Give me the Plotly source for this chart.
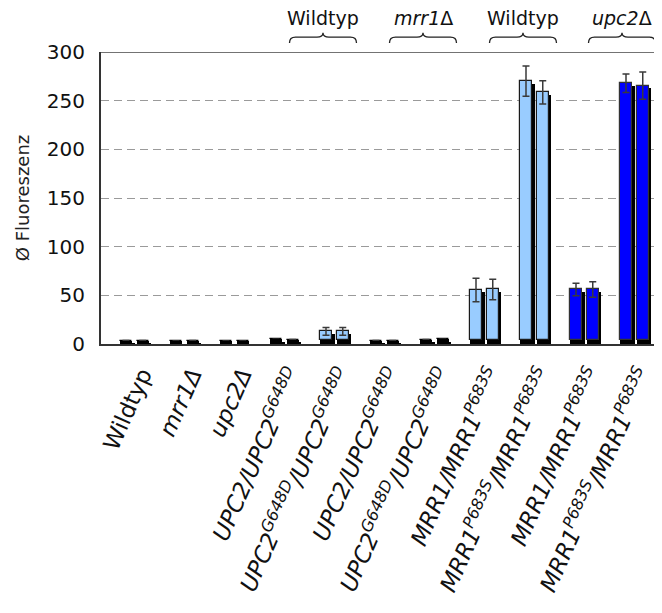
import plotly.graph_objects as go

# ---------------- data ----------------
categories = [
    "Wildtyp",
    "<i>mrr1Δ</i>",
    "<i>upc2Δ</i>",
    "<i>UPC2/UPC2<sup>G648D</sup></i>",
    "<i>UPC2<sup>G648D</sup>/UPC2<sup>G648D</sup></i>",
    "<i>UPC2/UPC2<sup>G648D</sup></i>",
    "<i>UPC2<sup>G648D</sup>/UPC2<sup>G648D</sup></i>",
    "<i>MRR1/MRR1<sup>P683S</sup></i>",
    "<i>MRR1<sup>P683S</sup>/MRR1<sup>P683S</sup></i>",
    "<i>MRR1/MRR1<sup>P683S</sup></i>",
    "<i>MRR1<sup>P683S</sup>/MRR1<sup>P683S</sup></i>",
]
# mean fluorescence, two isolates per strain
mean_a = [3.5, 3.0, 3.0, 5.0, 13.0, 3.5, 4.5, 55.5, 270.0, 56.0, 268.0]
mean_b = [3.5, 3.5, 3.0, 4.5, 13.0, 3.5, 5.0, 56.0, 258.5, 56.0, 265.5]
err_a = [None, None, None, None, 4.0, None, None, 12.0, 15.5, 6.5, 9.5]
err_b = [None, None, None, None, 4.0, None, None, 10.5, 12.0, 8.0, 14.0]
# black (background) portion at the foot of each bar
black_a = [3.5, 3.0, 3.0, 5.0, 4.0, 3.5, 4.5, 4.0, 4.0, 4.0, 4.0]
black_b = [3.5, 3.5, 3.0, 4.5, 4.0, 3.5, 5.0, 4.0, 4.0, 4.0, 4.0]
bar_colors = ["#000000", "#000000", "#000000", "#000000", "#99CCFF", "#000000",
              "#000000", "#99CCFF", "#99CCFF", "#0000FF", "#0000FF"]
line_colors = ["#000000", "#000000", "#000000", "#000000", "#1a1a1a", "#000000",
               "#000000", "#1a1a1a", "#1a1a1a", "#333333", "#333333"]

groups = ["Wildtyp", "<i>mrr1</i>Δ", "Wildtyp", "<i>upc2</i>Δ"]
group_pos = [3.76, 5.76, 7.76, 9.74]

# ---------------- figure ----------------
x = list(range(len(categories)))
FONT = "DejaVu Sans"
BW = 0.24
offsets = [-0.30, 0.035]
SH_DX = 0.05   # shadow shift (x units)
SH_DY = -2.5   # shadow shift (y units)

fig = go.Figure()

for mean, err, black, off in [(mean_a, err_a, black_a, offsets[0]),
                              (mean_b, err_b, black_b, offsets[1])]:
    # drop shadow
    fig.add_trace(go.Bar(
        x=x, y=mean, base=[SH_DY] * len(x), width=BW, offset=off + SH_DX,
        marker=dict(color="#000000", line=dict(width=0)),
        showlegend=False, hoverinfo="skip"))
    # coloured part
    fig.add_trace(go.Bar(
        x=x, y=[m - b for m, b in zip(mean, black)], base=black, width=BW, offset=off,
        marker=dict(color=bar_colors, line=dict(color=line_colors, width=1.2)),
        error_y=dict(type="data", array=[e if e is not None else 0 for e in err],
                     visible=True, color="#3a3a3a", thickness=1.5, width=3.5),
        showlegend=False))
    # black foot
    fig.add_trace(go.Bar(
        x=x, y=black, width=BW, offset=off,
        marker=dict(color="#000000", line=dict(width=0)),
        showlegend=False, hoverinfo="skip"))

shapes = []
# top frame line
shapes.append(dict(type="line", xref="paper", yref="y", x0=0, x1=1, y0=300, y1=300,
                   line=dict(color="#444444", width=1.5), layer="above"))
annotations = []
hw = 0.67
for g, c in zip(groups, group_pos):
    y_end, y_mid, y_tip = 1.031, 1.051, 1.066
    path = (f"M {c-hw},{y_end} Q {c-hw},{y_mid} {c-hw+0.12},{y_mid} "
            f"L {c-0.12},{y_mid} Q {c},{y_mid} {c},{y_tip} "
            f"Q {c},{y_mid} {c+0.12},{y_mid} L {c+hw-0.12},{y_mid} "
            f"Q {c+hw},{y_mid} {c+hw},{y_end}")
    shapes.append(dict(type="path", xref="x", yref="paper", path=path,
                       line=dict(color="#222222", width=1.3)))
    annotations.append(dict(x=c, y=1.072, xref="x", yref="paper", text=g,
                            showarrow=False, xanchor="center", yanchor="bottom",
                            font=dict(family=FONT, size=19, color="#111111")))

# the page body adds an 8px margin, so the figure is 8px smaller
fig.update_layout(
    width=654, height=605,
    margin=dict(l=93, r=0, t=44, b=269),
    paper_bgcolor="white", plot_bgcolor="white",
    barmode="overlay",
    bargap=0,
    shapes=shapes,
    annotations=annotations,
    font=dict(family=FONT, color="#111111"),
)
fig.update_xaxes(
    range=[-0.68, 10.54],
    tickmode="array", tickvals=x, ticktext=categories,
    tickangle=-66, tickfont=dict(family=FONT, size=23, color="#111111"),
    showline=True, linecolor="#333333", linewidth=2,
    showgrid=False, zeroline=False, ticks="",
    ticklabelshift=7, ticklabelstandoff=6,
)
fig.update_yaxes(
    range=[0, 300], dtick=50, tick0=0,
    tickfont=dict(family=FONT, size=20, color="#111111"),
    showline=True, linecolor="#333333", linewidth=2,
    showgrid=True, gridcolor="#9a9a9a", griddash="8px,5px", gridwidth=1,
    zeroline=False, ticks="", ticklabelstandoff=10,
    title=dict(text="Ø Fluoreszenz", font=dict(family=FONT, size=18, color="#222222"),
               standoff=13),
)

fig.write_html("out.html")
